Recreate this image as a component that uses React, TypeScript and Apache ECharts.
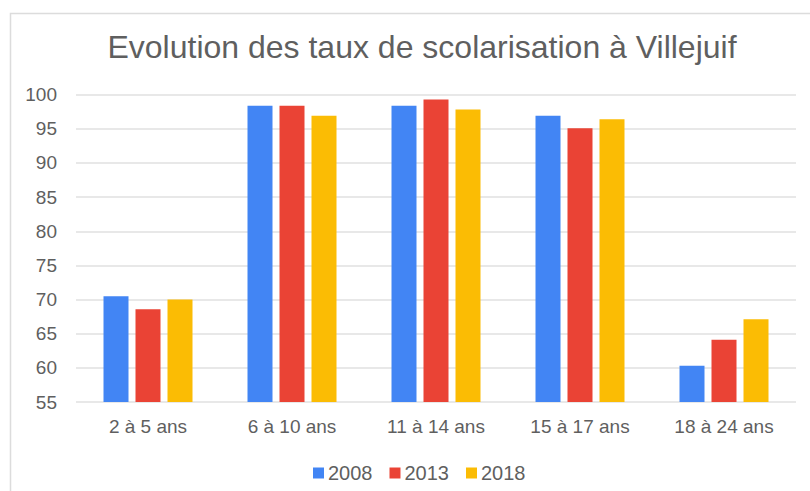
import React, { useEffect, useRef } from "react";
import * as echarts from "echarts";

const categories = ["2 à 5 ans", "6 à 10 ans", "11 à 14 ans", "15 à 17 ans", "18 à 24 ans"];
const seriesNames = ["2008", "2013", "2018"];
const values2008 = [70.5, 98.4, 98.4, 96.9, 60.3];
const values2013 = [68.6, 98.4, 99.3, 95.1, 64.1];
const values2018 = [70.0, 96.9, 97.85, 96.4, 67.1];
const colors = ["#4285F4", "#EA4335", "#FBBC04"];
const yMin = 55;
const yMax = 100;
const yInterval = 5;
const title = "Evolution des taux de scolarisation à Villejuif";

export default function App() {
  const ref = useRef<HTMLDivElement>(null);
  useEffect(() => {
    if (!ref.current) return;
    const chart = echarts.init(ref.current, undefined, { renderer: "svg" });
    const font = "Arial, 'Liberation Sans', sans-serif";
    const textColor = "#5f5f5f";
    const data = [values2008, values2013, values2018];
    chart.setOption({
      animation: false,
      backgroundColor: "#ffffff",
      textStyle: { fontFamily: font },
      title: {
        text: title,
        left: 417,
        textAlign: "center",
        top: 26,
        textStyle: { fontSize: 32, fontWeight: "normal", color: "#5f5f5f", fontFamily: font },
      },
      graphic: [
        {
          type: "rect",
          shape: { x: 10.5, y: 13.5, width: 900, height: 600 },
          style: { fill: "none", stroke: "#dcdcdc", lineWidth: 1.5 },
          silent: true,
          z: -1,
        },
      ],
      legend: {
        data: seriesNames,
        left: 308,
        top: 458,
        icon: "rect",
        itemWidth: 11,
        itemHeight: 11,
        itemGap: 17,
        textStyle: { fontSize: 20, color: textColor, fontFamily: font, padding: [0, 0, 0, -1] },
      },
      grid: { left: 76, right: 14, top: 94.7, bottom: 89, containLabel: false },
      xAxis: {
        type: "category",
        data: categories,
        axisLine: { show: false },
        axisTick: { show: false },
        axisLabel: { fontSize: 19, color: textColor, margin: 15, fontFamily: font },
      },
      yAxis: {
        type: "value",
        min: yMin,
        max: yMax,
        interval: yInterval,
        axisLine: { show: false },
        axisTick: { show: false },
        axisLabel: { fontSize: 19, color: textColor, margin: 19, fontFamily: font },
        splitLine: { lineStyle: { color: "#e0e0e0", width: 1.5 } },
      },
      series: seriesNames.map((name, i) => ({
        name,
        type: "bar",
        data: data[i],
        barWidth: 25,
        barGap: "28%",
        itemStyle: { color: colors[i] },
      })),
    });
    return () => chart.dispose();
  }, []);
  return <div ref={ref} style={{ position: "fixed", left: 0, top: 0, width: 810, height: 491 }} />;
}
